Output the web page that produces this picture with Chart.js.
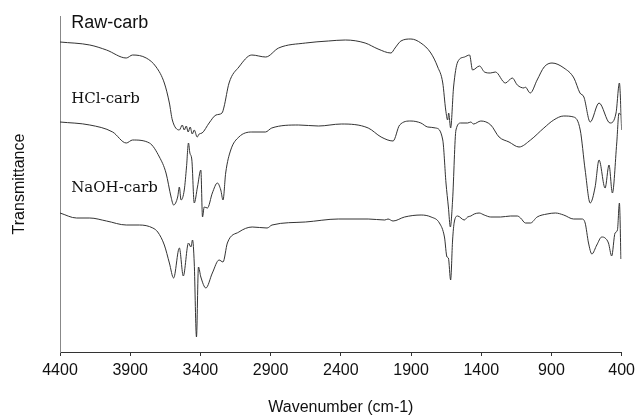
<!DOCTYPE html>
<html>
<head>
<meta charset="utf-8">
<script src="https://cdn.jsdelivr.net/npm/chart.js@4.4.0/dist/chart.umd.min.js"></script>
<style>
  html, body { margin: 0; padding: 0; background: #fff; }
</style>
</head>
<body>
<canvas id="ftirChart" width="640" height="420"></canvas>
<script>
// wavenumbers (cm-1) and transmittance (arbitrary units)
const rawWave = [4400, 4188, 4069, 3928, 3883, 3786, 3715, 3657, 3621, 3600, 3550, 3529, 3515, 3501, 3487, 3473, 3458, 3444, 3423, 3409, 3388, 3338, 3289, 3246, 3232, 3196, 3126, 3034, 2935, 2843, 2651, 2489, 2368, 2227, 2135, 2043, 2014, 1972, 1901, 1830, 1759, 1710, 1674, 1653, 1639, 1632, 1618, 1597, 1568, 1519, 1483, 1462, 1412, 1377, 1335, 1299, 1228, 1179, 1143, 1094, 1087, 1051, 1002, 952, 896, 811, 740, 697, 669, 624, 561, 483, 440, 416, 400];
const rawT    = [310, 307, 302, 294, 297, 294, 285, 269, 249, 232, 222, 227, 222, 226, 220, 225, 218, 222, 215, 218, 219, 229, 237, 239, 245, 269, 285, 297, 295, 304, 309, 311, 312, 309, 303, 299, 304, 311, 313, 309, 299, 285, 269, 242, 232, 239, 224, 265, 290, 295, 297, 282, 286, 280, 279, 280, 269, 274, 267, 264, 265, 259, 272, 285, 289, 284, 274, 259, 255, 230, 249, 229, 239, 269, 222];

const hclWave = [4400, 4188, 4025, 3928, 3883, 3763, 3692, 3645, 3609, 3591, 3562, 3550, 3538, 3515, 3499, 3485, 3475, 3461, 3444, 3421, 3397, 3385, 3373, 3350, 3315, 3279, 3255, 3239, 3220, 3184, 3126, 3034, 2937, 2892, 2701, 2559, 2396, 2205, 2113, 2028, 1981, 1901, 1830, 1781, 1724, 1674, 1651, 1634, 1620, 1604, 1580, 1545, 1497, 1474, 1455, 1403, 1332, 1273, 1202, 1131, 1049, 954, 884, 813, 742, 695, 660, 624, 589, 561, 518, 490, 466, 435, 419, 407];
const hclT    = [230, 227, 220, 209, 212, 209, 195, 179, 155, 147, 155, 165, 152, 162, 185, 209, 199, 192, 149, 165, 182, 135, 145, 144, 159, 169, 162, 152, 179, 202, 215, 220, 220, 224, 227, 226, 228, 224, 215, 211, 227, 231, 229, 225, 224, 212, 169, 145, 125, 152, 222, 229, 229, 230, 228, 231, 227, 215, 210, 205, 212, 224, 232, 236, 235, 222, 182, 149, 165, 192, 164, 187, 159, 209, 239, 237];

const naohWave = [4400, 4282, 4188, 4069, 3928, 3834, 3739, 3704, 3657, 3621, 3591, 3550, 3522, 3485, 3468, 3456, 3444, 3428, 3414, 3397, 3361, 3315, 3267, 3239, 3208, 3126, 3031, 2925, 2890, 2653, 2418, 2205, 2087, 2064, 2028, 1946, 1828, 1757, 1698, 1662, 1644, 1634, 1618, 1604, 1592, 1568, 1521, 1497, 1474, 1450, 1415, 1379, 1332, 1262, 1191, 1143, 1120, 1085, 1049, 1002, 931, 872, 813, 742, 683, 660, 636, 612, 577, 542, 518, 494, 471, 447, 430, 416, 405];
const naohT    = [139, 134, 134, 131, 127, 127, 124, 120, 107, 89, 74, 104, 76, 109, 105, 112, 89, 15, 85, 75, 64, 79, 92, 90, 109, 120, 125, 124, 127, 130, 133, 133, 132, 133, 131, 135, 137, 135, 129, 115, 95, 94, 72, 112, 130, 136, 132, 135, 136, 138, 139, 137, 135, 135, 136, 136, 134, 129, 129, 135, 138, 139, 137, 133, 133, 129, 109, 98, 107, 115, 114, 109, 96, 119, 122, 149, 93];

const xTicks = [4400, 3900, 3400, 2900, 2400, 1900, 1400, 900, 400];

const seriesNames = ['Raw-carb', 'HCl-carb', 'NaOH-carb'];
// where each name sits: [wavenumber, transmittance]
const namePlaces = [[4320, 329], [4320, 253], [4320, 164]];

function toPoints(xs, ys) {
  return xs.map((x, i) => ({ x: x, y: ys[i] }));
}

// curve names written inside the plot
const nameLabels = {
  id: 'nameLabels',
  afterDatasetsDraw(chart) {
    const ctx = chart.ctx;
    const xs = chart.scales.x, ys = chart.scales.y;
    ctx.save();
    ctx.fillStyle = '#111';
    ctx.textBaseline = 'middle';
    ctx.textAlign = 'left';
    seriesNames.forEach((name, i) => {
      ctx.font = i == 0 ? '18px "Liberation Sans", Arial, sans-serif' : '15px "DejaVu Serif", serif';
      ctx.fillText(name, xs.getPixelForValue(namePlaces[i][0]), ys.getPixelForValue(namePlaces[i][1]));
    });
    ctx.restore();
  }
};

const lineStyle = { borderColor: '#333', borderWidth: 1, pointRadius: 0, cubicInterpolationMode: 'monotone', fill: false };

new Chart(document.getElementById('ftirChart'), {
  type: 'line',
  data: {
    datasets: [
      Object.assign({ label: seriesNames[0], data: toPoints(rawWave, rawT) }, lineStyle),
      Object.assign({ label: seriesNames[1], data: toPoints(hclWave, hclT) }, lineStyle),
      Object.assign({ label: seriesNames[2], data: toPoints(naohWave, naohT) }, lineStyle)
    ]
  },
  options: {
    responsive: false,
    animation: false,
    devicePixelRatio: 1,
    layout: { padding: { top: 16, right: 15, left: 0, bottom: 0 } },
    plugins: { legend: { display: false }, tooltip: { enabled: false } },
    scales: {
      x: {
        type: 'linear',
        reverse: true,
        min: 400,
        max: 4400,
        afterBuildTicks: (scale) => { scale.ticks = xTicks.map(v => ({ value: v })); },
        afterFit: (scale) => { scale.height = 68; },
        grid: { drawOnChartArea: false, drawTicks: true, tickLength: 4, color: '#333' },
        border: { color: '#333', width: 1 },
        ticks: {
          color: '#111',
          padding: 5,
          maxRotation: 0,
          autoSkip: false,
          font: { family: '"Liberation Sans", Arial, sans-serif', size: 16 },
          callback: (v) => String(v)
        },
        title: {
          display: true,
          text: 'Wavenumber (cm-1)',
          color: '#111',
          padding: { top: 0, bottom: 3 },
          font: { family: '"Liberation Sans", Arial, sans-serif', size: 16 }
        }
      },
      y: {
        min: 0,
        max: 336,
        afterFit: (scale) => { scale.width = 60; },
        grid: { display: false, drawTicks: false },
        border: { color: '#888', width: 1 },
        ticks: { display: false },
        title: {
          display: true,
          text: 'Transmittance',
          color: '#111',
          padding: { top: 10, bottom: 0 },
          font: { family: '"Liberation Sans", Arial, sans-serif', size: 16 }
        }
      }
    }
  },
  plugins: [nameLabels]
});
</script>
</body>
</html>
